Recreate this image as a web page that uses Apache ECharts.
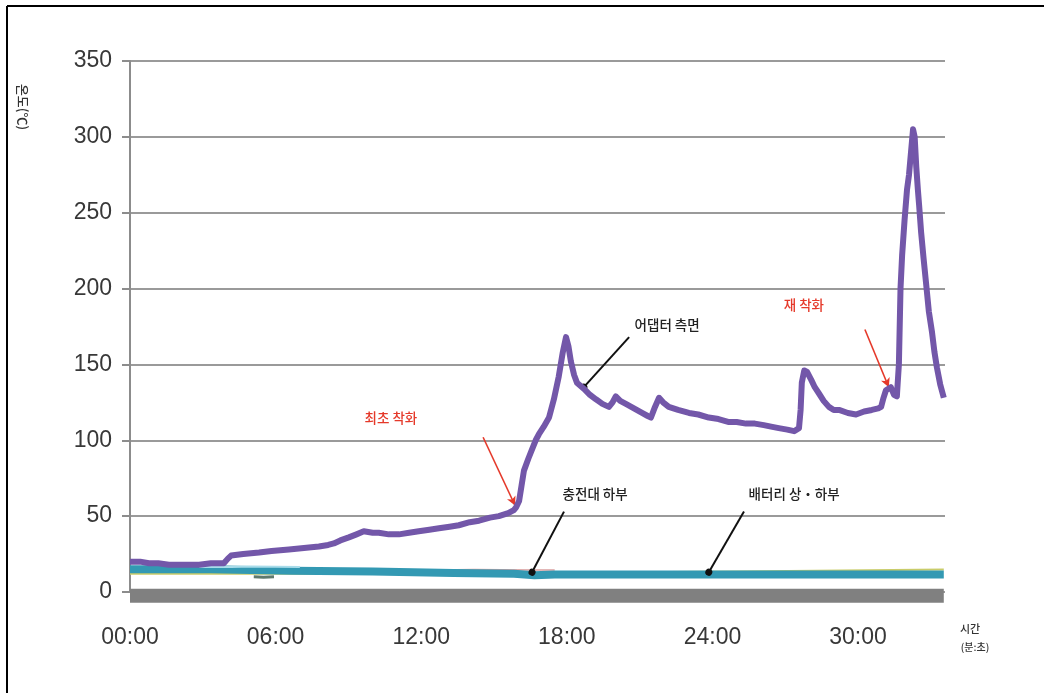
<!DOCTYPE html>
<html>
<head>
<meta charset="utf-8">
<script src="https://cdn.jsdelivr.net/npm/echarts@6/dist/echarts.min.js"></script>
<style>html,body{margin:0;padding:0;background:#fff}#c{width:1044px;height:693px}</style>
</head>
<body>
<div id="c"></div>
<script>
// ---- data (time in seconds, temperature in °C) ----
const xTicks = ['00:00','06:00','12:00','18:00','24:00','30:00'];
const yTicks = [0,50,100,150,200,250,300,350];

const adapterTime = [0,25,47,70,96,130,171,200,232,242,250,280,319,350,393,430,467,490,504,520,541,560,578,600,615,640,665,690,714,740,764,790,813,840,863,890,912,935,949,955,962,968,974,985,994,1003,1011,1023,1036,1048,1060,1070,1078,1084,1090,1098,1105,1122,1137,1152,1168,1184,1193,1201,1212,1226,1246,1266,1280,1288,1298,1308,1318,1332,1355,1382,1405,1431,1455,1481,1500,1523,1545,1567,1585,1604,1625,1642,1654,1658,1661,1667,1674,1684,1693,1703,1715,1728,1740,1753,1775,1795,1815,1834,1850,1857,1863,1869,1881,1889,1896,1901,1905,1909,1915,1921,1926,1931,1936,1940,1944,1948,1951,1956,1962,1968,1975,1983,1989,1995,2003,2012];
const adapterTemp = [20,20,19,19,18,18,18,19,19,22,24,25,26,27,28,29,30,31,32,34,36,38,40,39,39,38,38,39,40,41,42,43,44,46,47,49,50,52,54,56,60,70,80,88,94,100,104,109,115,127,142,158,168,162,152,143,138,134,130,127,124,122,125,129,126,124,121,118,116,115,122,128,125,122,120,118,117,115,114,112,112,111,111,110,109,108,107,106,108,120,138,146,145,140,135,131,126,122,120,120,118,117,119,120,121,122,128,133,135,130,129,150,200,222,245,265,275,290,305,300,280,265,255,237,220,204,185,171,158,148,137,128];

const chargerTime = [0,200,400,600,800,950,1000,1050,1200,1500,1800,2012];
const chargerTemp = [15,15,14,13.5,12.5,12,11,11.5,11.5,11.5,11.5,11.5];

const batteryTime = [0,600,1000,1500,2012];
const batteryTemp = [12,12,12.5,13.5,14.8];

const sideTime = [171,250,300,420];
const sideTemp = [16.5,16.5,16.8,16.5];

const specTime = [306,330,356];
const specTemp = [10,9.8,10];

const redTime = [700,764,850,988,1050];
const redTemp = [14.5,14.5,14.8,14.5,14.5];

const floorTime = [0,2012];
const floorTemp = [-2.5,-2.5];

// annotations: [time, temp]
const noteFirst = {text:'최초 착화', at:[645,114.7], from:[873,102], to:[952,57]};
const noteRe = {text:'재 착화', at:[1666,189], from:[1817,173], to:[1876,135]};
const noteAdapter = {text:'어댑터 측면', at:[1328,176], from:[1234,168], to:[1122,135]};
const noteCharger = {text:'충전대 하부', at:[1150,65], from:[1073,53], to:[994,13]};
const noteBattery = {text:'배터리 상・하부', at:[1642,65], from:[1518,53], to:[1431,13]};

const zip = (a,b) => a.map((v,i)=>[v,b[i]]);

const redArrow = n => [
  {coord:n.from, symbol:'none'},
  {coord:n.to, symbol:'arrow', symbolSize:[7,9], lineStyle:{color:'#e5392a', width:1.6, type:'solid'}}
];
const blackLine = n => [
  {coord:n.from, symbol:'none'},
  {coord:n.to, symbol:'circle', symbolSize:7, lineStyle:{color:'#111', width:2, type:'solid'}}
];
const note = (n,color) => ({coord:n.at, value:n.text, label:{color:color}});

const chart = echarts.init(document.getElementById('c'), null, {renderer:'canvas'});
const baseLine = (name, t, v, color, width, extra) => Object.assign({
  name, type:'line', data: zip(t,v), showSymbol:false, symbol:'none', smooth:false,
  lineStyle:{color, width, join:'round'}, itemStyle:{color}, silent:true, animation:false
}, extra||{});

chart.setOption({
  animation:false,
  backgroundColor:'#fff',
  grid:{left:130, right:99, top:61, bottom:101, containLabel:false},
  xAxis:{
    type:'value', min:0, max:2015, interval:360,
    axisLine:{show:false}, axisTick:{show:false}, splitLine:{show:false},
    axisLabel:{
      margin:34, color:'#383838', fontSize:23, fontFamily:'Liberation Sans',
      formatter: v => (v % 360 === 0 && xTicks[v/360] !== undefined) ? xTicks[v/360] : ''
    }
  },
  yAxis:{
    type:'value', min:0, max:350, interval:50,
    axisLine:{show:true, lineStyle:{color:'#8c8c8c', width:2}},
    axisTick:{show:true, length:8, inside:false, lineStyle:{color:'#8c8c8c', width:2}},
    splitLine:{show:true, lineStyle:{color:'#9a9a9a', width:2}},
    axisLabel:{margin:18, color:'#383838', fontSize:23, fontFamily:'Liberation Sans',
      formatter: v => yTicks.includes(v) ? String(v) : ''}
  },
  graphic:[
    {type:'line', shape:{x1:7, y1:6, x2:7, y2:693}, style:{stroke:'#000', lineWidth:2}, silent:true},
    {type:'line', shape:{x1:7, y1:6, x2:1044, y2:6}, style:{stroke:'#000', lineWidth:2}, silent:true},
    {type:'text', x:23, y:107, rotation:-Math.PI/2, style:{text:'온도(℃)', fill:'#333', font:'500 13px "Noto Sans CJK KR"', textAlign:'center', textVerticalAlign:'middle'}, silent:true},
    {type:'text', x:970, y:629, style:{text:'시간', fill:'#333', font:'500 11px "Noto Sans CJK KR"', textAlign:'center', textVerticalAlign:'middle'}, silent:true},
    {type:'text', x:975, y:647, style:{text:'(분:초)', fill:'#333', font:'500 10px "Noto Sans CJK KR"', textAlign:'center', textVerticalAlign:'middle'}, silent:true}
  ],
  series:[
    baseLine('바닥', floorTime, floorTemp, '#808080', 14, {clip:false, z:1}),
    baseLine('배터리', batteryTime, batteryTemp, '#c9cc6a', 2, {z:2}),
    baseLine('기타', redTime, redTemp, '#d9a0a0', 1.5, {z:2}),
    baseLine('충전대 하부', chargerTime, chargerTemp, '#3399b3', 8, {z:3}),
    baseLine('측면2', sideTime, sideTemp, '#a9dcea', 2, {z:4}),
    baseLine('점', specTime, specTemp, '#5f7a6e', 3, {z:4}),
    baseLine('어댑터 측면', adapterTime, adapterTemp, '#7357a9', 6, {z:5,
      markLine:{
        silent:true, animation:false, label:{show:false}, emphasis:{disabled:true},
        data:[redArrow(noteFirst), redArrow(noteRe), blackLine(noteAdapter), blackLine(noteCharger), blackLine(noteBattery)]
      },
      markPoint:{
        silent:true, animation:false, symbol:'circle', symbolSize:0,
        label:{show:true, position:'inside', formatter:p=>p.value, fontSize:13.5, fontFamily:'Noto Sans CJK KR', fontWeight:500},
        data:[note(noteFirst,'#e5392a'), note(noteRe,'#e5392a'), note(noteAdapter,'#222'), note(noteCharger,'#222'), note(noteBattery,'#222')]
      }
    })
  ]
});
</script>
</body>
</html>
